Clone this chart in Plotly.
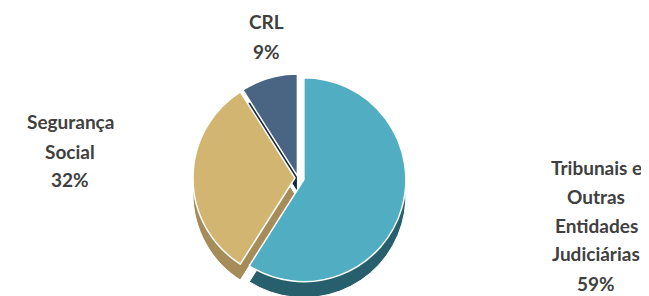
import plotly.graph_objects as go

# ---- data ----
categories = ["Tribunais e Outras Entidades Judiciárias", "Segurança Social", "CRL"]
label_lines = [["Tribunais e", "Outras", "Entidades", "Judiciárias"], ["Segurança", "Social"], ["CRL"]]
shares = [59, 32, 9]

top_colors = ["#51AEC2", "#D3B572", "#4A6584"]
side_colors = ["#27606C", "#A58C58", "#1B2838"]
pulls = [0.06, 0.03, 0.02]

fig = go.Figure()

# side / depth layer (shifted down)
fig.add_trace(go.Pie(
    labels=categories, values=shares, sort=False, direction="clockwise", rotation=0,
    pull=pulls, marker=dict(colors=side_colors, line=dict(color="white", width=1)),
    textinfo="none", hoverinfo="skip", showlegend=False,
    domain=dict(x=[0.2803, 0.6134], y=[0.0065, 0.7369]),
))
# top face
fig.add_trace(go.Pie(
    labels=categories, values=shares, sort=False, direction="clockwise", rotation=0,
    pull=pulls, marker=dict(colors=top_colors, line=dict(color="white", width=1.5)),
    textinfo="none", hovertemplate="%{label}: %{value}%<extra></extra>", showlegend=False,
    domain=dict(x=[0.2803, 0.6134], y=[0.0605, 0.7909]),
))

# label block positions: (center x, y of first line) in pixels, 29 px line pitch
label_pos = [(588, 159), (62, 114), (258, 14)]
for lines, v, (px, py) in zip(label_lines, shares, label_pos):
    for i, t in enumerate(lines + [f"{v}%"]):
        fig.add_annotation(
            x=px / 649, y=1 - (py + 29 * i) / 296, xref="paper", yref="paper",
            text=f"<b>{t}</b>", showarrow=False,
            xanchor="center", yanchor="middle", align="center",
            font=dict(family="Lato, 'Open Sans', sans-serif", size=19, color="#404040"),
        )

fig.update_layout(
    width=649, height=296, margin=dict(l=0, r=0, t=0, b=0),
    paper_bgcolor="white", plot_bgcolor="white",
)
fig.write_html("out.html")
